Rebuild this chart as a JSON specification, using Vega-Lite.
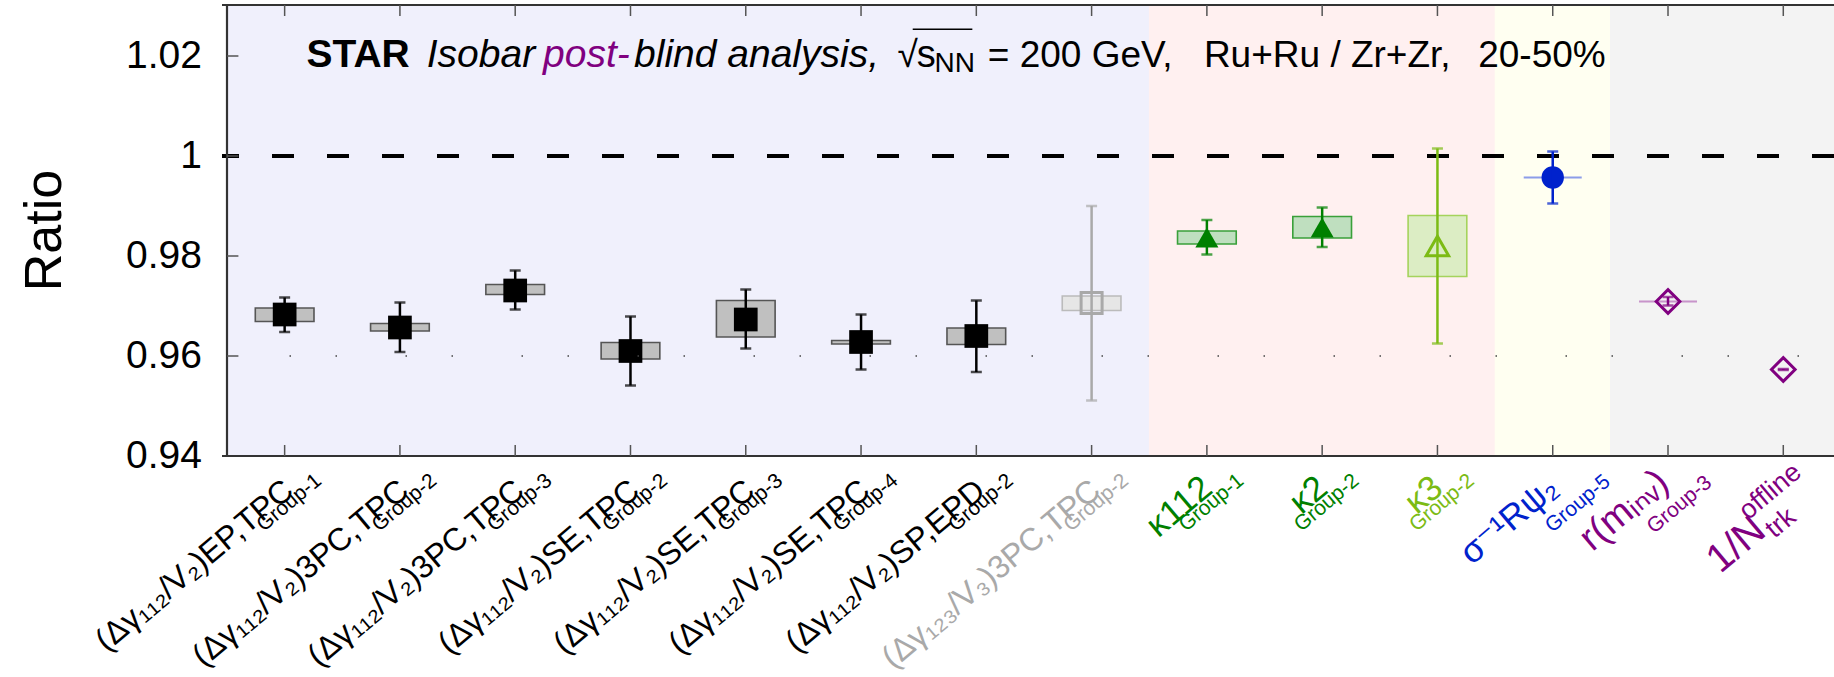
{
  "$schema": "https://vega.github.io/schema/vega-lite/v6.json",
  "width": 1612,
  "height": 451,
  "autosize": {"type": "none"},
  "padding": {"left": 222, "top": 5, "right": 0, "bottom": 221},
  "background": "#ffffff",
  "config": {
    "view": {"stroke": null},
    "font": "Liberation Sans",
    "text": {"font": "Liberation Sans, DejaVu Sans"}
  },
  "datasets": {
    "cats": [
      {"id": 1, "fam": "dg112", "reg": "A", "main": "(Δγ₁₁₂/V₂)EP,TPC", "grp": "Group-1"},
      {"id": 2, "fam": "dg112", "reg": "A", "main": "(Δγ₁₁₂/V₂)3PC,TPC", "grp": "Group-2"},
      {"id": 3, "fam": "dg112", "reg": "A", "main": "(Δγ₁₁₂/V₂)3PC,TPC", "grp": "Group-3"},
      {"id": 4, "fam": "dg112", "reg": "A", "main": "(Δγ₁₁₂/V₂)SE,TPC", "grp": "Group-2"},
      {"id": 5, "fam": "dg112", "reg": "A", "main": "(Δγ₁₁₂/V₂)SE,TPC", "grp": "Group-3"},
      {"id": 6, "fam": "dg112", "reg": "A", "main": "(Δγ₁₁₂/V₂)SE,TPC", "grp": "Group-4"},
      {"id": 7, "fam": "dg112", "reg": "A", "main": "(Δγ₁₁₂/V₂)SP,EPD", "grp": "Group-2"},
      {"id": 8, "fam": "dg123", "reg": "A", "main": "(Δγ₁₂₃/V₃)3PC,TPC", "grp": "Group-2"},
      {"id": 9, "fam": "k", "reg": "B", "main": "κ112", "grp": "Group-1"},
      {"id": 10, "fam": "k", "reg": "B", "main": "κ2", "grp": "Group-2"},
      {"id": 11, "fam": "k3", "reg": "B", "main": "κ3", "grp": "Group-2"},
      {"id": 12, "fam": "sig", "reg": "C", "main": "σ⁻¹Rψ₂", "grp": "Group-5"},
      {"id": 13, "fam": "purp", "reg": "D", "main": "r(mᵢₙᵥ)", "grp": "Group-3"},
      {"id": 14, "fam": "purp", "reg": "D", "main": "1/N", "grp": ""}
    ],
    "pts": [
      {"id": 1, "fam": "dg112", "v": 0.9683, "elo": 0.9648, "ehi": 0.9717, "slo": 0.9669, "shi": 0.9696},
      {"id": 2, "fam": "dg112", "v": 0.9657, "elo": 0.9608, "ehi": 0.9707, "slo": 0.9650, "shi": 0.9665},
      {"id": 3, "fam": "dg112", "v": 0.9731, "elo": 0.9693, "ehi": 0.9771, "slo": 0.9723, "shi": 0.9743},
      {"id": 4, "fam": "dg112", "v": 0.9610, "elo": 0.9541, "ehi": 0.9679, "slo": 0.9594, "shi": 0.9627},
      {"id": 5, "fam": "dg112", "v": 0.9673, "elo": 0.9615, "ehi": 0.9733, "slo": 0.9638, "shi": 0.9711},
      {"id": 6, "fam": "dg112", "v": 0.9628, "elo": 0.9573, "ehi": 0.9683, "slo": 0.9624, "shi": 0.9631},
      {"id": 7, "fam": "dg112", "v": 0.9640, "elo": 0.9568, "ehi": 0.9711, "slo": 0.9623, "shi": 0.9656},
      {"id": 8, "fam": "dg123", "v": 0.9706, "elo": 0.9511, "ehi": 0.9900, "slo": 0.9691, "shi": 0.9720},
      {"id": 9, "fam": "k", "v": 0.9837, "elo": 0.9803, "ehi": 0.9872, "slo": 0.9824, "shi": 0.9850},
      {"id": 10, "fam": "k", "v": 0.9857, "elo": 0.9818, "ehi": 0.9897, "slo": 0.9836, "shi": 0.9879},
      {"id": 11, "fam": "k3", "v": 0.9820, "elo": 0.9625, "ehi": 1.0015, "slo": 0.9759, "shi": 0.9881},
      {"id": 12, "fam": "sig", "v": 0.9957, "elo": 0.9905, "ehi": 1.0009, "slo": null, "shi": null},
      {"id": 13, "fam": "purp", "v": 0.9709, "elo": 0.9701, "ehi": 0.9718, "slo": null, "shi": null},
      {"id": 14, "fam": "purp", "v": 0.9573, "elo": 0.9572, "ehi": 0.9574, "slo": null, "shi": null}
    ],
    "yticks": [{"t": 0.94, "lab": "0.94"}, {"t": 0.96, "lab": "0.96"}, {"t": 0.98, "lab": "0.98"}, {"t": 1.0, "lab": "1"}, {"t": 1.02, "lab": "1.02"}]
  },
  "resolve": {
    "scale": {"color": "independent", "fill": "independent", "stroke": "independent", "shape": "independent", "size": "independent"}
  },
  "layer": [
    {
      "data": {"name": "cats"},
      "mark": {"type": "bar", "width": 116},
      "encoding": {
        "x": {"field": "id", "type": "quantitative", "scale": {"domain": [0.5, 14.396551724], "nice": false, "zero": false}, "axis": null},
        "y": {"datum": 0.94, "scale": {"domain": [0.94, 1.0302], "nice": false, "zero": false}, "axis": null},
        "y2": {"datum": 1.0302},
        "color": {"field": "reg", "type": "nominal", "scale": {"domain": ["A", "B", "C", "D"], "range": ["#F0F0FC", "#FFF0F0", "#FFFFF1", "#F3F3F3"]}, "legend": null}
      }
    },
    {
      "data": {"values": [{}]},
      "mark": {"type": "rule", "strokeDash": [22, 33], "strokeWidth": 4, "color": "#000000"},
      "encoding": {"y": {"datum": 1, "axis": null}}
    },
    {
      "data": {"name": "pts"},
      "transform": [{"filter": "datum.slo != null"}],
      "mark": {"type": "bar", "width": 58.7, "strokeWidth": 1.6},
      "encoding": {
        "x": {"field": "id", "type": "quantitative", "scale": {"domain": [0.5, 14.396551724], "nice": false, "zero": false}, "axis": null},
        "y": {"field": "slo", "type": "quantitative", "scale": {"domain": [0.94, 1.0302], "nice": false, "zero": false}, "axis": null},
        "y2": {"field": "shi"},
        "fill": {"field": "fam", "type": "nominal", "scale": {"domain": ["dg112", "dg123", "k", "k3"], "range": ["#C0C0C0", "#E6E6E6", "#BFDFBF", "#DCEDC4"]}, "legend": null},
        "stroke": {"field": "fam", "type": "nominal", "scale": {"domain": ["dg112", "dg123", "k", "k3"], "range": ["#555555", "#BBBBBB", "#3AA03A", "#A5D35C"]}, "legend": null}
      }
    },
    {
      "data": {"values": [{}]},
      "mark": {"type": "rule", "strokeWidth": 2.2, "color": "#333333"},
      "encoding": {"y": {"datum": 0.94, "axis": null}}
    },
    {
      "data": {"values": [{}]},
      "mark": {"type": "rule", "strokeWidth": 2.2, "color": "#333333"},
      "encoding": {"y": {"datum": 1.0302, "axis": null}}
    },
    {
      "data": {"values": [{}]},
      "mark": {"type": "rule", "strokeWidth": 2.2, "color": "#333333"},
      "encoding": {"x": {"datum": 0.5, "axis": null}}
    },
    {
      "data": {"name": "cats"},
      "mark": {"type": "rule", "strokeWidth": 1.5, "color": "#555555"},
      "encoding": {
        "x": {"field": "id", "type": "quantitative", "scale": {"domain": [0.5, 14.396551724], "nice": false, "zero": false}, "axis": null},
        "y": {"datum": 0.94, "axis": null},
        "y2": {"datum": 0.9422}
      }
    },
    {
      "data": {"name": "cats"},
      "mark": {"type": "rule", "strokeWidth": 1.5, "color": "#555555"},
      "encoding": {
        "x": {"field": "id", "type": "quantitative", "scale": {"domain": [0.5, 14.396551724], "nice": false, "zero": false}, "axis": null},
        "y": {"datum": 1.0302, "axis": null},
        "y2": {"datum": 1.028}
      }
    },
    {
      "data": {"name": "yticks"},
      "transform": [{"filter": "datum.t > 0.95"}],
      "mark": {"type": "rule", "strokeWidth": 1.5, "color": "#555555"},
      "encoding": {
        "x": {"datum": 0.5, "axis": null},
        "x2": {"datum": 0.599},
        "y": {"field": "t", "type": "quantitative", "scale": {"domain": [0.94, 1.0302], "nice": false, "zero": false}, "axis": null}
      }
    },
    {
      "data": {"name": "yticks"},
      "mark": {"type": "text", "align": "right", "baseline": "middle", "fontSize": 39, "dx": -25, "color": "#000000", "font": "Liberation Sans"},
      "encoding": {
        "x": {"datum": 0.5, "axis": null},
        "y": {"field": "t", "type": "quantitative", "scale": {"domain": [0.94, 1.0302], "nice": false, "zero": false}, "axis": null},
        "text": {"field": "lab"}
      }
    },
    {
      "data": {"values": [{}]},
      "mark": {"type": "text", "text": "Ratio", "align": "center", "baseline": "alphabetic", "fontSize": 52, "dy": -166, "color": "#000000", "font": "Liberation Sans"},
      "encoding": {
        "x": {"datum": 0.5, "axis": null},
        "y": {"datum": 0.9851, "axis": null},
        "angle": {"value": 270}
      }
    },
    {
      "data": {"name": "pts"},
      "transform": [{"filter": "datum.id == 12 || datum.id == 13"}],
      "mark": {"type": "tick", "orient": "horizontal", "size": 58, "thickness": 2},
      "encoding": {
        "x": {"field": "id", "type": "quantitative", "scale": {"domain": [0.5, 14.396551724], "nice": false, "zero": false}, "axis": null},
        "y": {"field": "v", "type": "quantitative", "scale": {"domain": [0.94, 1.0302], "nice": false, "zero": false}, "axis": null},
        "color": {"field": "fam", "type": "nominal", "scale": {"domain": ["sig", "purp"], "range": ["#5B73E6", "#B56BB8"]}, "legend": null}
      }
    },
    {
      "data": {"name": "pts"},
      "transform": [{"filter": "datum.fam == 'dg112' || datum.fam == 'k' || datum.fam == 'sig'"}],
      "mark": {"type": "point", "filled": true, "opacity": 1, "strokeWidth": 0},
      "encoding": {
        "x": {"field": "id", "type": "quantitative", "scale": {"domain": [0.5, 14.396551724], "nice": false, "zero": false}, "axis": null},
        "y": {"field": "v", "type": "quantitative", "scale": {"domain": [0.94, 1.0302], "nice": false, "zero": false}, "axis": null},
        "shape": {"field": "fam", "type": "nominal", "scale": {"domain": ["dg112", "k", "sig"], "range": ["square", "triangle-up", "circle"]}, "legend": null},
        "color": {"field": "fam", "type": "nominal", "scale": {"domain": ["dg112", "k", "sig"], "range": ["#000000", "#008000", "#0022CC"]}, "legend": null},
        "size": {"field": "fam", "type": "nominal", "scale": {"domain": ["dg112", "k", "sig"], "range": [562, 500, 405]}, "legend": null}
      }
    },
    {
      "data": {"name": "pts"},
      "transform": [{"filter": "datum.fam == 'dg123' || datum.fam == 'k3' || datum.fam == 'purp'"}],
      "mark": {"type": "point", "filled": false, "opacity": 1, "strokeWidth": 3},
      "encoding": {
        "x": {"field": "id", "type": "quantitative", "scale": {"domain": [0.5, 14.396551724], "nice": false, "zero": false}, "axis": null},
        "y": {"field": "v", "type": "quantitative", "scale": {"domain": [0.94, 1.0302], "nice": false, "zero": false}, "axis": null},
        "shape": {"field": "fam", "type": "nominal", "scale": {"domain": ["dg123", "k3", "purp"], "range": ["square", "triangle-up", "diamond"]}, "legend": null},
        "color": {"field": "fam", "type": "nominal", "scale": {"domain": ["dg123", "k3", "purp"], "range": ["#A9A9A9", "#7CBB14", "#800080"]}, "legend": null},
        "size": {"field": "fam", "type": "nominal", "scale": {"domain": ["dg123", "k3", "purp"], "range": [441, 560, 529]}, "legend": null}
      }
    },
    {
      "data": {"name": "pts"},
      "mark": {"type": "rule", "strokeWidth": 2.5},
      "encoding": {
        "x": {"field": "id", "type": "quantitative", "scale": {"domain": [0.5, 14.396551724], "nice": false, "zero": false}, "axis": null},
        "y": {"field": "elo", "type": "quantitative", "scale": {"domain": [0.94, 1.0302], "nice": false, "zero": false}, "axis": null},
        "y2": {"field": "ehi"},
        "color": {"field": "fam", "type": "nominal", "scale": {"domain": ["dg112", "dg123", "k", "k3", "sig", "purp"], "range": ["#000000", "#A9A9A9", "#008000", "#7CBB14", "#0022CC", "#800080"]}, "legend": null}
      }
    },
    {
      "data": {"name": "pts"},
      "mark": {"type": "tick", "orient": "horizontal", "size": 11, "thickness": 2.5},
      "encoding": {
        "x": {"field": "id", "type": "quantitative", "scale": {"domain": [0.5, 14.396551724], "nice": false, "zero": false}, "axis": null},
        "y": {"field": "elo", "type": "quantitative", "scale": {"domain": [0.94, 1.0302], "nice": false, "zero": false}, "axis": null},
        "color": {"field": "fam", "type": "nominal", "scale": {"domain": ["dg112", "dg123", "k", "k3", "sig", "purp"], "range": ["#000000", "#A9A9A9", "#008000", "#7CBB14", "#0022CC", "#800080"]}, "legend": null}
      }
    },
    {
      "data": {"name": "pts"},
      "mark": {"type": "tick", "orient": "horizontal", "size": 11, "thickness": 2.5},
      "encoding": {
        "x": {"field": "id", "type": "quantitative", "scale": {"domain": [0.5, 14.396551724], "nice": false, "zero": false}, "axis": null},
        "y": {"field": "ehi", "type": "quantitative", "scale": {"domain": [0.94, 1.0302], "nice": false, "zero": false}, "axis": null},
        "color": {"field": "fam", "type": "nominal", "scale": {"domain": ["dg112", "dg123", "k", "k3", "sig", "purp"], "range": ["#000000", "#A9A9A9", "#008000", "#7CBB14", "#0022CC", "#800080"]}, "legend": null}
      }
    },
    {
      "data": {"values": [{}]},
      "mark": {"type": "rule", "strokeDash": [1.5, 68.5, 1.5, 44.5], "strokeDashOffset": 81, "strokeWidth": 1.5, "color": "#444444"},
      "encoding": {"y": {"datum": 0.96, "axis": null}}
    },
    {
      "data": {"name": "cats"},
      "transform": [{"filter": "datum.id <= 8"}],
      "mark": {"type": "text", "align": "right", "baseline": "alphabetic", "fontSize": 32, "dx": -16, "dy": 36},
      "encoding": {
        "x": {"field": "id", "type": "quantitative", "scale": {"domain": [0.5, 14.396551724], "nice": false, "zero": false}, "axis": null},
        "y": {"datum": 0.94, "axis": null},
        "angle": {"value": 320},
        "text": {"field": "main"},
        "color": {"field": "fam", "type": "nominal", "scale": {"domain": ["dg112", "dg123"], "range": ["#000000", "#A9A9A9"]}, "legend": null}
      }
    },
    {
      "data": {"name": "cats"},
      "transform": [{"filter": "datum.id >= 9 && datum.id <= 12"}],
      "mark": {"type": "text", "align": "right", "baseline": "alphabetic", "fontSize": 35, "dx": -17, "dy": 32},
      "encoding": {
        "x": {"field": "id", "type": "quantitative", "scale": {"domain": [0.5, 14.396551724], "nice": false, "zero": false}, "axis": null},
        "y": {"datum": 0.94, "axis": null},
        "angle": {"value": 320},
        "text": {"field": "main"},
        "color": {"field": "fam", "type": "nominal", "scale": {"domain": ["k", "k3", "sig"], "range": ["#008000", "#7CBB14", "#0022CC"]}, "legend": null}
      }
    },
    {
      "data": {"name": "cats"},
      "transform": [{"filter": "datum.id <= 11"}],
      "mark": {"type": "text", "align": "right", "baseline": "alphabetic", "fontSize": 21, "dx": 12, "dy": 45},
      "encoding": {
        "x": {"field": "id", "type": "quantitative", "scale": {"domain": [0.5, 14.396551724], "nice": false, "zero": false}, "axis": null},
        "y": {"datum": 0.94, "axis": null},
        "angle": {"value": 320},
        "text": {"field": "grp"},
        "color": {"field": "fam", "type": "nominal", "scale": {"domain": ["dg112", "dg123", "k", "k3"], "range": ["#000000", "#A9A9A9", "#008000", "#7CBB14"]}, "legend": null}
      }
    },
    {
      "data": {"name": "cats"},
      "transform": [{"filter": "datum.id == 12"}],
      "mark": {"type": "text", "align": "right", "baseline": "alphabetic", "fontSize": 21, "dx": 27, "dy": 59, "color": "#0022CC"},
      "encoding": {
        "x": {"field": "id", "type": "quantitative", "scale": {"domain": [0.5, 14.396551724], "nice": false, "zero": false}, "axis": null},
        "y": {"datum": 0.94, "axis": null},
        "angle": {"value": 320},
        "text": {"field": "grp"}
      }
    },
    {
      "data": {"name": "cats"},
      "transform": [{"filter": "datum.id == 13"}],
      "mark": {"type": "text", "align": "right", "baseline": "alphabetic", "fontSize": 38, "dx": -17, "dy": 25, "color": "#800080"},
      "encoding": {
        "x": {"field": "id", "type": "quantitative", "scale": {"domain": [0.5, 14.396551724], "nice": false, "zero": false}, "axis": null},
        "y": {"datum": 0.94, "axis": null},
        "angle": {"value": 320},
        "text": {"field": "main"}
      }
    },
    {
      "data": {"name": "cats"},
      "transform": [{"filter": "datum.id == 13"}],
      "mark": {"type": "text", "align": "right", "baseline": "alphabetic", "fontSize": 21, "dx": 16, "dy": 51, "color": "#800080"},
      "encoding": {
        "x": {"field": "id", "type": "quantitative", "scale": {"domain": [0.5, 14.396551724], "nice": false, "zero": false}, "axis": null},
        "y": {"datum": 0.94, "axis": null},
        "angle": {"value": 320},
        "text": {"field": "grp"}
      }
    },
    {
      "data": {"name": "cats"},
      "transform": [{"filter": "datum.id == 14"}],
      "mark": {"type": "text", "align": "right", "baseline": "alphabetic", "fontSize": 40, "dx": -62, "dy": 50, "color": "#800080"},
      "encoding": {
        "x": {"field": "id", "type": "quantitative", "scale": {"domain": [0.5, 14.396551724], "nice": false, "zero": false}, "axis": null},
        "y": {"datum": 0.94, "axis": null},
        "angle": {"value": 320},
        "text": {"field": "main"}
      }
    },
    {
      "data": {"name": "cats"},
      "transform": [{"filter": "datum.id == 14"}],
      "mark": {"type": "text", "text": "offline", "align": "right", "baseline": "alphabetic", "fontSize": 27, "dx": 3, "dy": 27, "color": "#800080"},
      "encoding": {
        "x": {"field": "id", "type": "quantitative", "scale": {"domain": [0.5, 14.396551724], "nice": false, "zero": false}, "axis": null},
        "y": {"datum": 0.94, "axis": null},
        "angle": {"value": 320}
      }
    },
    {
      "data": {"name": "cats"},
      "transform": [{"filter": "datum.id == 14"}],
      "mark": {"type": "text", "text": "trk", "align": "left", "baseline": "alphabetic", "fontSize": 27, "dx": -60, "dy": 58, "color": "#800080"},
      "encoding": {
        "x": {"field": "id", "type": "quantitative", "scale": {"domain": [0.5, 14.396551724], "nice": false, "zero": false}, "axis": null},
        "y": {"datum": 0.94, "axis": null},
        "angle": {"value": 320}
      }
    },
    {
      "data": {"values": [{}]},
      "mark": {"type": "text", "text": "STAR", "fontWeight": "bold", "fontSize": 39, "align": "left", "baseline": "alphabetic", "color": "#000000"},
      "encoding": {"x": {"datum": 1.1897, "axis": null}, "y": {"datum": 1.01786, "axis": null}}
    },
    {
      "data": {"values": [{}]},
      "mark": {"type": "text", "text": "Isobar", "fontStyle": "italic", "fontSize": 39, "align": "left", "baseline": "alphabetic", "color": "#000000"},
      "encoding": {"x": {"datum": 2.2328, "axis": null}, "y": {"datum": 1.01786, "axis": null}}
    },
    {
      "data": {"values": [{}]},
      "mark": {"type": "text", "text": "post-", "fontStyle": "italic", "fontSize": 39, "align": "left", "baseline": "alphabetic", "color": "#800080"},
      "encoding": {"x": {"datum": 3.2414, "axis": null}, "y": {"datum": 1.01786, "axis": null}}
    },
    {
      "data": {"values": [{}]},
      "mark": {"type": "text", "text": "blind analysis,", "fontStyle": "italic", "fontSize": 39, "align": "left", "baseline": "alphabetic", "color": "#000000"},
      "encoding": {"x": {"datum": 4.031, "axis": null}, "y": {"datum": 1.01786, "axis": null}}
    },
    {
      "data": {"values": [{}]},
      "mark": {"type": "text", "text": "√", "fontSize": 37, "align": "left", "baseline": "alphabetic", "color": "#000000"},
      "encoding": {"x": {"datum": 6.3155, "axis": null}, "y": {"datum": 1.01786, "axis": null}}
    },
    {
      "data": {"values": [{}]},
      "mark": {"type": "rule", "strokeWidth": 1.5, "color": "#000000"},
      "encoding": {"x": {"datum": 6.4483, "axis": null}, "x2": {"datum": 6.9655}, "y": {"datum": 1.02534, "axis": null}}
    },
    {
      "data": {"values": [{}]},
      "mark": {"type": "text", "text": "s", "fontSize": 38, "align": "left", "baseline": "alphabetic", "color": "#000000"},
      "encoding": {"x": {"datum": 6.4828, "axis": null}, "y": {"datum": 1.01786, "axis": null}}
    },
    {
      "data": {"values": [{}]},
      "mark": {"type": "text", "text": "NN", "fontSize": 28, "align": "left", "baseline": "alphabetic", "color": "#000000"},
      "encoding": {"x": {"datum": 6.6379, "axis": null}, "y": {"datum": 1.01686, "axis": null}}
    },
    {
      "data": {"values": [{}]},
      "mark": {"type": "text", "text": "= 200 GeV,", "fontSize": 37, "align": "left", "baseline": "alphabetic", "color": "#000000"},
      "encoding": {"x": {"datum": 7.0991, "axis": null}, "y": {"datum": 1.01786, "axis": null}}
    },
    {
      "data": {"values": [{}]},
      "mark": {"type": "text", "text": "Ru+Ru / Zr+Zr,", "fontSize": 37, "align": "left", "baseline": "alphabetic", "color": "#000000"},
      "encoding": {"x": {"datum": 8.9741, "axis": null}, "y": {"datum": 1.01786, "axis": null}}
    },
    {
      "data": {"values": [{}]},
      "mark": {"type": "text", "text": "20-50%", "fontSize": 37, "align": "left", "baseline": "alphabetic", "color": "#000000"},
      "encoding": {"x": {"datum": 11.3534, "axis": null}, "y": {"datum": 1.01786, "axis": null}}
    }
  ]
}
